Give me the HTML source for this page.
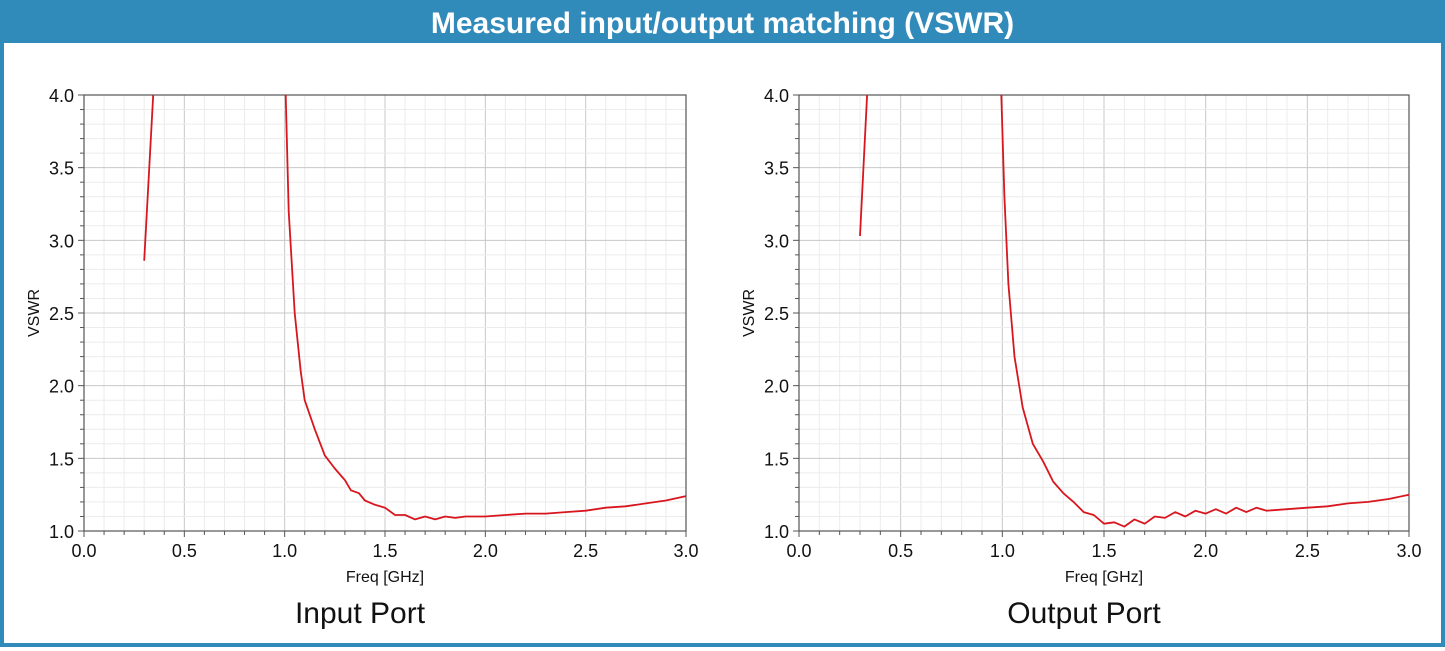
<!DOCTYPE html>
<html><head><meta charset="utf-8"><style>
body{margin:0;background:#fff;}
#wrap{position:relative;width:1445px;height:651px;overflow:hidden;font-family:"Liberation Sans",sans-serif;}
#frame{position:absolute;left:0;top:0;width:1437px;height:643px;border:4px solid #318bba;border-top:none;}
#title{position:absolute;left:0;top:0;width:1445px;height:43px;background:#318bba;color:#fff;font-weight:bold;font-size:30px;text-align:center;line-height:48px;}
svg{position:absolute;left:0;top:0;}
</style></head><body>
<div id="wrap">
<div id="frame"></div>
<div id="title">Measured input/output matching (VSWR)</div>
<svg id="svg" width="1445" height="651"></svg>
</div>
<script>
const xTicks=[0.0,0.5,1.0,1.5,2.0,2.5,3.0];
const yTicks=[1.0,1.5,2.0,2.5,3.0,3.5,4.0];
const inFreqA=[0.30,0.345];
const inVswrA=[2.86,4.0];
const inFreqB=[1.005,1.02,1.05,1.08,1.1,1.15,1.2,1.25,1.3,1.33,1.37,1.4,1.45,1.5,1.55,1.6,1.65,1.7,1.75,1.8,1.85,1.9,2.0,2.1,2.2,2.3,2.4,2.5,2.6,2.7,2.8,2.9,3.0];
const inVswrB=[4.0,3.2,2.5,2.1,1.9,1.7,1.52,1.43,1.35,1.28,1.26,1.21,1.18,1.16,1.11,1.11,1.08,1.1,1.08,1.1,1.09,1.1,1.1,1.11,1.12,1.12,1.13,1.14,1.16,1.17,1.19,1.21,1.24];
const outFreqA=[0.30,0.335];
const outVswrA=[3.03,4.0];
const outFreqB=[0.995,1.01,1.03,1.06,1.1,1.15,1.2,1.25,1.3,1.35,1.4,1.45,1.5,1.55,1.6,1.65,1.7,1.75,1.8,1.85,1.9,1.95,2.0,2.05,2.1,2.15,2.2,2.25,2.3,2.4,2.5,2.6,2.7,2.8,2.9,3.0];
const outVswrB=[4.0,3.3,2.7,2.2,1.85,1.6,1.48,1.34,1.26,1.2,1.13,1.11,1.05,1.06,1.03,1.08,1.05,1.1,1.09,1.13,1.1,1.14,1.12,1.15,1.12,1.16,1.13,1.16,1.14,1.15,1.16,1.17,1.19,1.2,1.22,1.25];
const NS='http://www.w3.org/2000/svg';
const svg=document.getElementById('svg');
function mk(tag,attrs,parent){const e=document.createElementNS(NS,tag);for(const k in attrs)e.setAttribute(k,attrs[k]);(parent||svg).appendChild(e);return e;}
function plot(x0,x1,sub,sets,key){
  const y0=95,y1=531;
  const g=mk('g',{});
  
  
  const X=v=>x0+(v-0)/3*(x1-x0);
  const Y=v=>y1-(v-1)/3*(y1-y0);
  for(let i=0;i<=30;i++){const v=i/10;const maj=i%5==0;
    const l=mk('line',{x1:X(v),x2:X(v),y1:y0,y2:y1,stroke:maj?'#c8c8c8':'#ececec','stroke-width':1},g);
    
    mk('line',{x1:X(v),x2:X(v),y1:y1,y2:y1+(maj?6:4),stroke:'#555'},g);}
  for(let i=0;i<=30;i++){const v=1+i/10;const maj=i%5==0;
    const l=mk('line',{x1:x0,x2:x1,y1:Y(v),y2:Y(v),stroke:maj?'#c8c8c8':'#ececec','stroke-width':1},g);
    
    mk('line',{x1:x0-(maj?6:4),x2:x0,y1:Y(v),y2:Y(v),stroke:'#555'},g);}
  const r=mk('rect',{x:x0,y:y0,width:x1-x0,height:y1-y0,fill:'none',stroke:'#555','stroke-width':1.2},g);
  
  xTicks.forEach(v=>{const t=mk('text',{x:X(v),y:y1+26,'text-anchor':'middle','font-size':18,fill:'#111'},g);t.textContent=v.toFixed(1);
    });
  yTicks.forEach(v=>{const t=mk('text',{x:x0-10,y:Y(v)+7,'text-anchor':'end','font-size':18,fill:'#111'},g);t.textContent=v.toFixed(1);
    });
  let t=mk('text',{x:(x0+x1)/2,y:y1+51,'text-anchor':'middle','font-size':16,fill:'#111'},g);t.textContent='Freq [GHz]';
  
  t=mk('text',{x:0,y:0,'text-anchor':'middle','font-size':16,fill:'#111',transform:`translate(${x0-45},${(y0+y1)/2}) rotate(-90)`},g);t.textContent='VSWR';
  
  t=mk('text',{x:(x0+x1)/2-(key=='input'?25:20),y:623,'text-anchor':'middle','font-size':30,fill:'#111'},g);t.textContent=sub;
  
  sets.forEach(([fx,fy],i)=>{const d=fx.map((f,j)=>(j?'L':'M')+X(f).toFixed(1)+','+Y(fy[j]).toFixed(1)).join(' ');
    const p=mk('path',{d:d,fill:'none',stroke:'#d8161e','stroke-width':1.8,'stroke-linejoin':'round'},g);
    });
}
plot(84,686,'Input Port',[[inFreqA,inVswrA],[inFreqB,inVswrB]],'input');
plot(799,1409,'Output Port',[[outFreqA,outVswrA],[outFreqB,outVswrB]],'output');
</script>
</body></html>
